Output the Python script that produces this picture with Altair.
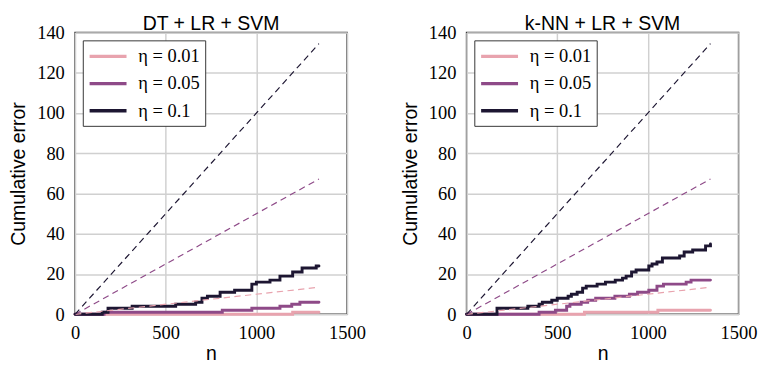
import altair as alt
import pandas as pd

panels = ["DT + LR + SVM", "k-NN + LR + SVM"]
etas = ["η = 0.01", "η = 0.05", "η = 0.1"]
colors = ["#e8a3ae", "#8e4a88", "#1d1632"]

# ---- DT + LR + SVM : cumulative error steps ----
dt_001_n = [0, 1200, 1345]
dt_001_e = [0, 1, 1]
dt_005_n = [0, 160, 812, 975, 1130, 1195, 1240, 1345]
dt_005_e = [0, 1, 2, 3, 4, 5, 6, 6]
dt_01_n = [0, 150, 182, 315, 555, 665, 700, 730, 800, 880, 975, 1000, 1075, 1130, 1200, 1252, 1330, 1345]
dt_01_e = [0, 1, 3, 4, 5, 6, 8, 9, 11, 12, 15, 16, 17, 19, 21, 23, 24, 24]

# ---- k-NN + LR + SVM : cumulative error steps ----
kn_001_n = [0, 650, 1055, 1345]
kn_001_e = [0, 1, 2, 2]
kn_005_n = [0, 400, 490, 552, 570, 632, 668, 712, 818, 898, 943, 1005, 1050, 1086, 1211, 1238, 1345]
kn_005_e = [0, 1, 2, 4, 5, 6, 7, 8, 9, 10, 11, 12, 14, 15, 16, 17, 17]
kn_01_n = [0, 168, 338, 400, 418, 470, 500, 560, 578, 610, 640, 660, 720, 766, 820, 860, 880, 910,
           935, 1005, 1023, 1050, 1080, 1175, 1200, 1247, 1318, 1345]
kn_01_e = [0, 3, 4, 5, 6, 7, 8, 9, 10, 11, 13, 14, 15, 16, 17, 18, 19, 21,
           22, 24, 25, 26, 28, 29, 31, 32, 34, 35]

# ---- dashed bound lines (eta * n) endpoints ----
bound_n = [0, 1345]
bound_end = [13.45, 67.25, 134.5]

x_ticks = [0, 500, 1000, 1500]
y_ticks = [0, 20, 40, 60, 80, 100, 120, 140]

series = {
    panels[0]: [(dt_001_n, dt_001_e), (dt_005_n, dt_005_e), (dt_01_n, dt_01_e)],
    panels[1]: [(kn_001_n, kn_001_e), (kn_005_n, kn_005_e), (kn_01_n, kn_01_e)],
}


def panel_chart(name, title_offset):
    step_rows = []
    for eta, (ns, es) in zip(etas, series[name]):
        for n, e in zip(ns, es):
            step_rows.append({"eta": eta, "n": n, "err": e})
    dash_rows = []
    for eta, end in zip(etas, bound_end):
        dash_rows.append({"eta": eta, "n": bound_n[0], "err": 0})
        dash_rows.append({"eta": eta, "n": bound_n[1], "err": end})
    steps_df = pd.DataFrame(step_rows)
    dash_df = pd.DataFrame(dash_rows)

    x = alt.X("n:Q", scale=alt.Scale(domain=[0, 1500], nice=False),
              axis=alt.Axis(values=x_ticks, format="d", title="n"))
    y = alt.Y("err:Q", scale=alt.Scale(domain=[0, 140], nice=False),
              axis=alt.Axis(values=y_ticks, format="d", title="Cumulative error"))
    legend = alt.Legend(
        title=None, orient="top-left", offset=8, symbolType="M-1,0H3",
        symbolSize=361, symbolStrokeWidth=3.5, labelFont="Liberation Serif",
        labelFontSize=19, labelColor="black", strokeColor="#333333",
        fillColor="white", padding=5, rowPadding=6, labelOffset=29,
        cornerRadius=0, labelLimit=200,
    )
    color = alt.Color("eta:N", scale=alt.Scale(domain=etas, range=colors), legend=legend)

    steps = alt.Chart(steps_df).mark_line(
        interpolate="step-after", strokeWidth=3, strokeCap="round"
    ).encode(x=x, y=y, color=color, order=alt.Order("n:Q"))
    dashed = alt.Chart(dash_df).mark_line(
        strokeDash=[6.5, 4.5], strokeWidth=1.2
    ).encode(x=x, y=y, color=color)

    return alt.layer(steps, dashed).properties(
        width=280, height=290,
        title=alt.TitleParams(name, offset=title_offset, frame="group"),
    )


chart = alt.hconcat(
    panel_chart(panels[0], -10),
    panel_chart(panels[1], -10),
    spacing=34,
).resolve_legend(color="independent").resolve_scale(color="independent").properties(
    padding=0
).configure_view(
    stroke="#3a3a3a", strokeWidth=1.5
).configure_axis(
    grid=True, gridColor="#d0d0d0", gridWidth=1.5, domain=False, ticks=False,
    labelFlush=False,
    labelFont="Liberation Serif", labelFontSize=19, labelColor="black",
    labelPadding=12, titleFont="Liberation Sans", titleFontSize=20,
    titleFontWeight="normal", titleColor="black",
).configure_axisY(
    titlePadding=8, labelPadding=11
).configure_axisX(
    titlePadding=2, labelPadding=10
).configure_title(
    font="Liberation Sans", fontSize=20, fontWeight="normal", color="black", anchor="middle"
)

chart.save("out.html", embed_options={"renderer": "svg", "actions": False})
